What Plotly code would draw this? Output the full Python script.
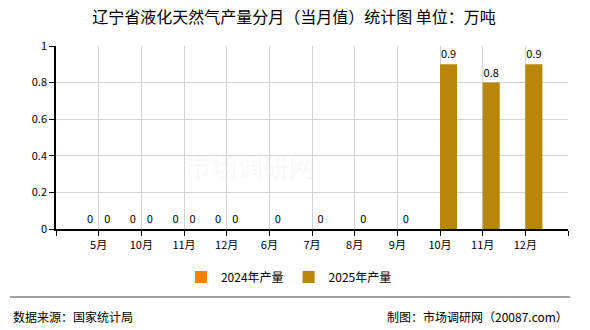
import plotly.graph_objects as go

categories = ["5月", "10月", "11月", "12月", "6月", "7月", "8月", "9月", "10月", "11月", "12月"]
series_2024 = [0, 0, 0, 0, None, None, None, None, None, None, None]
series_2025 = [0, 0, 0, 0, 0, 0, 0, 0, 0.9, 0.8, 0.9]
y_ticks = [0, 0.2, 0.4, 0.6, 0.8, 1]
y_tick_text = ["0", "0.2", "0.4", "0.6", "0.8", "1"]

x_pos = list(range(len(categories)))
FONT = "Noto Sans CJK SC, DejaVu Sans, sans-serif"

def labels(vals):
    return [("" if v is None else f"{v:g}") for v in vals]

fig = go.Figure()
fig.add_trace(go.Bar(
    x=x_pos, y=series_2024, name="2024年产量",
    marker=dict(color="#FF7F00", line=dict(width=0)),
    text=labels(series_2024), textposition="outside",
    textfont=dict(size=11, color="#000000", family=FONT),
    cliponaxis=False,
))
fig.add_trace(go.Bar(
    x=x_pos, y=series_2025, name="2025年产量",
    marker=dict(color="#B8860B", line=dict(width=0)),
    text=labels(series_2025), textposition="outside",
    textfont=dict(size=11, color="#000000", family=FONT),
    cliponaxis=False,
))

tickvals = [-1] + x_pos + [len(categories)]
ticktext = [""] + categories + [""]

fig.update_layout(
    width=590, height=330,
    margin=dict(l=56, r=22, t=46, b=101),
    paper_bgcolor="white", plot_bgcolor="white",
    barmode="group", bargap=0.2, bargroupgap=0,
    font=dict(family=FONT, size=11, color="#000000"),
    title=dict(text="辽宁省液化天然气产量分月（当月值）统计图 单位：万吨",
               x=294 / 590, xanchor="center", y=1 - 17.5 / 330, yanchor="middle",
               font=dict(size=16, color="#000000", family=FONT)),
    showlegend=True,
    legend=dict(orientation="h", x=0.455, xanchor="center",
                y=(229 - 277) / 183, yanchor="middle",
                font=dict(size=12, family=FONT), itemwidth=30,
                traceorder="normal"),
    xaxis=dict(range=[-1, len(categories)], tickvals=tickvals, ticktext=ticktext,
               showgrid=True, gridcolor="#D3D3D3", gridwidth=1,
               showline=True, linecolor="#000000", linewidth=1.5,
               ticks="outside", ticklen=5, tickcolor="#000000",
               tickfont=dict(size=11, family=FONT), zeroline=False, fixedrange=True),
    yaxis=dict(range=[0, 1], tickvals=y_ticks, ticktext=y_tick_text,
               showgrid=True, gridcolor="#D3D3D3", gridwidth=1,
               showline=True, linecolor="#000000", linewidth=1.5,
               ticks="outside", ticklen=5, tickcolor="#000000",
               tickfont=dict(size=11, family=FONT), zeroline=False, fixedrange=True),
    hovermode=False,
)

plot_h = 183.0
plot_w = 512.0
def py(px):
    return (229 - px) / plot_h
def pxx(px):
    return (px - 56) / plot_w

fig.add_shape(type="line", xref="paper", yref="paper",
              x0=pxx(10), x1=pxx(570), y0=py(297), y1=py(297),
              line=dict(color="#808080", width=1.5))
fig.add_annotation(text="数据来源：国家统计局", xref="paper", yref="paper",
                   x=pxx(11), y=py(316), xanchor="left", yanchor="middle",
                   showarrow=False, font=dict(size=12, family=FONT, color="#000000"))
fig.add_annotation(text="制图：市场调研网（20087.com）", xref="paper", yref="paper",
                   x=pxx(570), y=py(316), xanchor="right", yanchor="middle",
                   showarrow=False, font=dict(size=12, family=FONT, color="#000000"))
fig.add_annotation(text="市场调研网", xref="paper", yref="paper",
                   x=pxx(250), y=py(165), xanchor="center", yanchor="middle",
                   showarrow=False, font=dict(size=26, family=FONT, color="rgba(200,200,200,0.10)"))

fig.write_html("out.html")
